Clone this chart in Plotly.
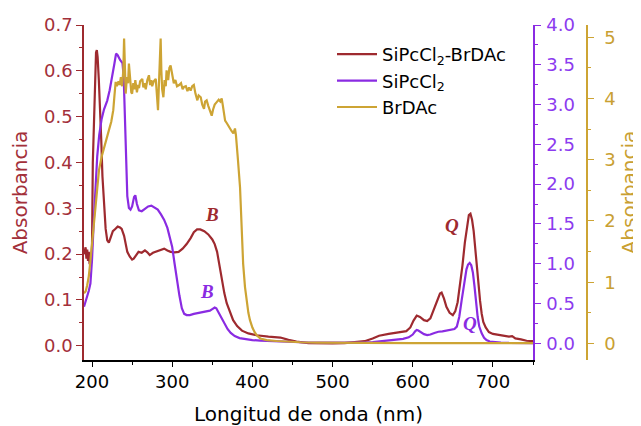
import plotly.graph_objects as go

# ---------------- data ----------------
wl_red = [190, 192, 193, 194, 195, 196, 197, 198, 199, 200, 201, 203, 205, 206, 207, 208.5, 210, 211.5, 213, 215,
          217, 219, 221, 223, 226, 229, 232, 235, 237, 240, 242, 244, 247, 250, 252, 255, 258, 262, 266, 269,
          272, 276, 280, 285, 290, 294, 298, 303, 308, 313, 318, 323, 327, 331, 335, 340, 345, 350, 353, 356,
          359, 362, 365, 368, 372, 376, 381, 387, 395, 405, 420, 435, 445, 455, 470, 485, 500, 515, 530, 540,
          550, 558, 570, 582, 592, 597, 601, 605, 609, 614, 618, 622, 626, 630, 634, 636, 639, 642, 646, 650,
          653, 656, 659, 662, 665, 668, 670, 672, 674, 676, 678, 680, 682, 684, 686, 688, 691, 695, 700, 707,
          713, 720, 724, 728, 735, 742, 750]
abs_red = [0.200, 0.215, 0.190, 0.210, 0.185, 0.205, 0.178, 0.195, 0.180, 0.22, 0.40, 0.55, 0.64, 0.645, 0.63, 0.58, 0.53, 0.45, 0.37, 0.30,
           0.255, 0.23, 0.225, 0.235, 0.25, 0.255, 0.26, 0.258, 0.255, 0.24, 0.22, 0.205, 0.195, 0.188, 0.19, 0.198, 0.205, 0.203, 0.208, 0.204,
           0.198, 0.203, 0.206, 0.208, 0.212, 0.208, 0.205, 0.204, 0.205, 0.212, 0.222, 0.235, 0.248, 0.254, 0.254, 0.250, 0.243, 0.232, 0.222, 0.205,
           0.175, 0.142, 0.115, 0.093, 0.072, 0.056, 0.043, 0.033, 0.027, 0.023, 0.020, 0.018, 0.013, 0.009, 0.006, 0.005, 0.005, 0.006, 0.008, 0.010,
           0.016, 0.022, 0.026, 0.030, 0.032, 0.040, 0.055, 0.066, 0.063, 0.056, 0.054, 0.060, 0.078, 0.098, 0.114, 0.116, 0.103, 0.085, 0.072, 0.067,
           0.075, 0.095, 0.130, 0.175, 0.225, 0.268, 0.285, 0.288, 0.275, 0.250, 0.210, 0.170, 0.130, 0.098, 0.070, 0.052, 0.040, 0.030, 0.026, 0.024,
           0.023, 0.020, 0.021, 0.016, 0.014, 0.011, 0.010]

wl_pur = [190, 192, 194, 196, 198, 200, 202, 204, 206.5, 209, 212, 215, 219, 222, 225, 228, 230, 232, 235, 238,
          239.5, 240.5, 241.5, 242.5, 244, 246, 248, 250, 252.5, 254, 256, 258.5, 262, 266, 270, 274, 278, 282, 286, 290,
          294, 297, 300, 303, 306, 309, 312, 315, 318, 322, 327, 332, 337, 342, 347, 350, 353, 355, 358, 361,
          365, 369, 373, 378, 384, 392, 400, 410, 425, 440, 460, 480, 500, 520, 538, 550, 560, 568, 578, 588,
          595, 600, 603, 605, 607, 610, 614, 618, 622, 627, 632, 637, 641, 645, 648, 652, 655, 658, 661, 664,
          667, 669, 671, 673, 675, 677, 679, 681, 683, 686, 689, 692, 696, 702, 710, 720, 735, 750]
abs_pur = [0.46, 0.52, 0.58, 0.66, 0.75, 1.05, 1.50, 1.95, 2.35, 2.62, 2.82, 2.94, 3.05, 3.18, 3.33, 3.52, 3.64, 3.62, 3.56, 3.52,
           3.35, 3.0, 2.5, 2.1, 1.85, 1.70, 1.68, 1.72, 1.84, 1.86, 1.75, 1.67, 1.66, 1.69, 1.72, 1.73, 1.71, 1.68, 1.62, 1.55,
           1.45, 1.34, 1.21, 1.00, 0.79, 0.60, 0.44, 0.37, 0.355, 0.355, 0.37, 0.38, 0.39, 0.40, 0.41, 0.43, 0.45, 0.44, 0.38, 0.32,
           0.24, 0.18, 0.13, 0.09, 0.065, 0.05, 0.04, 0.034, 0.025, 0.018, 0.013, 0.010, 0.008, 0.008, 0.008, 0.015, 0.025, 0.033, 0.045, 0.055,
           0.075, 0.11, 0.15, 0.167, 0.16, 0.14, 0.115, 0.104, 0.11, 0.13, 0.145, 0.15, 0.16, 0.166, 0.168, 0.18, 0.21, 0.33, 0.54, 0.76,
           0.93, 0.99, 1.01, 0.98, 0.89, 0.72, 0.50, 0.33, 0.21, 0.125, 0.07, 0.04, 0.022, 0.014, 0.010, 0.006, 0.004, 0.003]

wl_gold = [190, 192, 194, 196, 198, 200, 202.5, 205, 208.7, 212, 215, 218, 221, 224, 226.5, 228, 229.5, 231, 233, 234.5,
           236, 237.5, 239, 240, 241, 242, 243.5, 245, 246, 247.5, 249, 250, 251.5, 253, 254, 256, 257.5, 258.6, 260, 262.7,
           264, 265.5, 267, 269, 271, 272.5, 274, 275, 277, 279.5, 281, 282.3, 283.5, 284.5, 285.6, 286.5, 287.5, 289, 290.5, 292,
           293, 295, 296.5, 298, 300, 302, 304, 306, 308.6, 311, 313, 314.7, 317, 319, 321, 323, 325, 327, 329, 331.4,
           333, 335.6, 337.5, 339.7, 341, 343, 345, 347, 349.3, 351, 353, 355.5, 358, 360, 361.7, 363, 364.5, 366, 368, 370,
           372, 374, 376.3, 378.3, 379.5, 380.4, 382, 384.6, 386.7, 388.5, 390.8, 393, 395, 397, 400, 403, 405.4, 410, 417.8, 430,
           442.8, 460, 480, 500, 530, 560, 600, 650, 700, 750]
abs_gold = [0.82, 0.85, 0.95, 1.10, 1.35, 1.65, 2.01, 2.35, 2.83, 3.05, 3.21, 3.35, 3.48, 3.62, 3.81, 4.05, 4.27, 4.20, 4.28, 4.22,
            4.35, 4.20, 4.45, 4.98, 4.50, 4.08, 4.35, 4.25, 4.57, 4.30, 4.10, 4.08, 4.25, 4.15, 4.30, 4.10, 4.22, 4.17, 4.28, 4.32,
            4.18, 4.25, 4.15, 4.30, 4.38, 4.22, 4.30, 4.20, 4.28, 4.32, 4.10, 3.81, 4.25, 4.55, 4.98, 4.45, 4.15, 4.02, 4.30, 4.20,
            4.46, 4.30, 4.50, 4.54, 4.40, 4.25, 4.30, 4.20, 4.22, 4.25, 4.15, 4.19, 4.20, 4.12, 4.18, 4.13, 4.20, 4.22, 4.08, 3.97,
            4.05, 4.02, 3.90, 3.83, 3.95, 3.97, 3.88, 3.80, 3.72, 3.82, 3.90, 3.94, 3.98, 3.95, 4.00, 3.90, 3.72, 3.64, 3.60, 3.55,
            3.51, 3.47, 3.43, 3.51, 3.40, 3.21, 3.00, 2.55, 1.74, 1.30, 0.92, 0.68, 0.50, 0.38, 0.26, 0.18, 0.135, 0.08, 0.054, 0.04,
            0.03, 0.02, 0.015, 0.012, 0.010, 0.008, 0.007, 0.006, 0.005, 0.005]

names = ["SiPcCl<sub>2</sub>-BrDAc", "SiPcCl<sub>2</sub>", "BrDAc"]
x_title = "Longitud de onda (nm)"
y_title = "Absorbancia"

# ---------------- style ----------------
RED = "#9E2A2F"
RED_T = "#A3303A"
PUR = "#8A2BE2"
PUR_T = "#8C3BEF"
GOLD = "#CDA434"
GOLD_T = "#C9A032"
FONT = "DejaVu Sans"

OFF = 8  # page body margin
W, H = 641 - OFF, 426 - OFF
ML, MR, MT = 84 - OFF, 5, 25 - OFF
MB = H - (360 - OFF)
pw = W - ML - MR
ph = H - MT - MB
x_end = (533 - OFF - ML) / pw
gold_pos = (587 - OFF - ML) / pw

fig = go.Figure()
fig.add_trace(go.Scatter(x=wl_red, y=abs_red, name=names[0], mode="lines",
                         line=dict(color=RED, width=2.2), yaxis="y"))
fig.add_trace(go.Scatter(x=wl_pur, y=abs_pur, name=names[1], mode="lines",
                         line=dict(color=PUR, width=2.2), yaxis="y2"))
fig.add_trace(go.Scatter(x=wl_gold, y=abs_gold, name=names[2], mode="lines",
                         line=dict(color=GOLD, width=2.2), yaxis="y3"))

fig.update_layout(
    template="none",
    width=W, height=H,
    margin=dict(l=ML, r=MR, t=MT, b=MB, autoexpand=False),
    paper_bgcolor="white", plot_bgcolor="white",
    font=dict(family=FONT, size=18, color="black"),
    showlegend=True,
    legend=dict(x=(324 - OFF - ML + 8) / pw, y=1 - (36 - 25) / ph, xanchor="left", yanchor="top",
                bgcolor="rgba(0,0,0,0)", font=dict(family=FONT, size=18, color="black"),
                tracegroupgap=0, itemwidth=40),
    xaxis=dict(domain=[0, x_end], range=[190, 750], anchor="y",
               tickmode="linear", tick0=200, dtick=100,
               ticks="outside", ticklen=5, tickwidth=1.2, tickcolor="black",
               minor=dict(ticks="outside", ticklen=3, dtick=50, tick0=200, tickcolor="black", showgrid=False),
               showline=True, linecolor="black", linewidth=1.5, showgrid=False, zeroline=False,
               tickfont=dict(family=FONT, size=18, color="black"),
               title=dict(text=x_title, font=dict(family=FONT, size=20, color="black"), standoff=16),
               automargin=False),
    xaxis2=dict(overlaying="x", side="top", anchor="y", range=[190, 750], matches="x",
                tickmode="linear", tick0=200, dtick=50, ticks="inside", ticklen=5, tickcolor="black",
                showticklabels=False, showline=True, linecolor="black", linewidth=1.5,
                showgrid=False, zeroline=False, automargin=False),
    yaxis=dict(range=[-0.031, 0.7], tickmode="linear", tick0=0, dtick=0.1, tickformat=".1f",
               ticks="outside", ticklen=6, tickwidth=1.2, tickcolor=RED,
               minor=dict(ticks="outside", ticklen=3, dtick=0.05, tick0=0, tickcolor=RED, showgrid=False),
               showline=True, linecolor=RED, linewidth=1.5, showgrid=False, zeroline=False,
               tickfont=dict(family=FONT, size=18, color=RED_T),
               title=dict(text=y_title, font=dict(family=FONT, size=20, color=RED_T), standoff=12),
               automargin=False),
    yaxis2=dict(overlaying="y", side="right", anchor="x", range=[-0.21, 4.0],
                tickmode="linear", tick0=0, dtick=0.5, tickformat=".1f",
                ticks="outside", ticklen=6, tickwidth=1.2, tickcolor=PUR,
                minor=dict(ticks="outside", ticklen=3, dtick=0.25, tick0=0, tickcolor=PUR, showgrid=False),
                showline=True, linecolor=PUR, linewidth=1.5, showgrid=False, zeroline=False,
                ticklabelstandoff=2,
                tickfont=dict(family=FONT, size=18, color=PUR_T), automargin=False),
    yaxis3=dict(overlaying="y", side="right", anchor="free", position=gold_pos, range=[-0.27, 5.2],
                tickmode="linear", tick0=0, dtick=1,
                ticks="outside", ticklen=6, tickwidth=1.2, tickcolor=GOLD,
                minor=dict(ticks="outside", ticklen=3, dtick=0.5, tick0=0, tickcolor=GOLD, showgrid=False),
                showline=True, linecolor=GOLD, linewidth=1.5, showgrid=False, zeroline=False,
                ticklabelstandoff=7,
                tickfont=dict(family=FONT, size=18, color=GOLD_T),
                title=dict(text=y_title, font=dict(family=FONT, size=20, color=GOLD_T), standoff=6),
                automargin=False),
)

ann_font = dict(family="Liberation Serif", size=19)
labels = [("<b><i>B</i></b>", 349.6, 0.287, RED),
          ("<b><i>B</i></b>", 343.4, 0.119, PUR),
          ("<b><i>Q</i></b>", 648.6, 0.263, RED),
          ("<b><i>Q</i></b>", 671.4, 0.049, PUR)]
for txt, lx, ly, col in labels:
    fig.add_annotation(x=lx, y=ly, xref="x", yref="y", text=txt, showarrow=False,
                       font=dict(ann_font, color=col))

fig.write_html("out.html")
